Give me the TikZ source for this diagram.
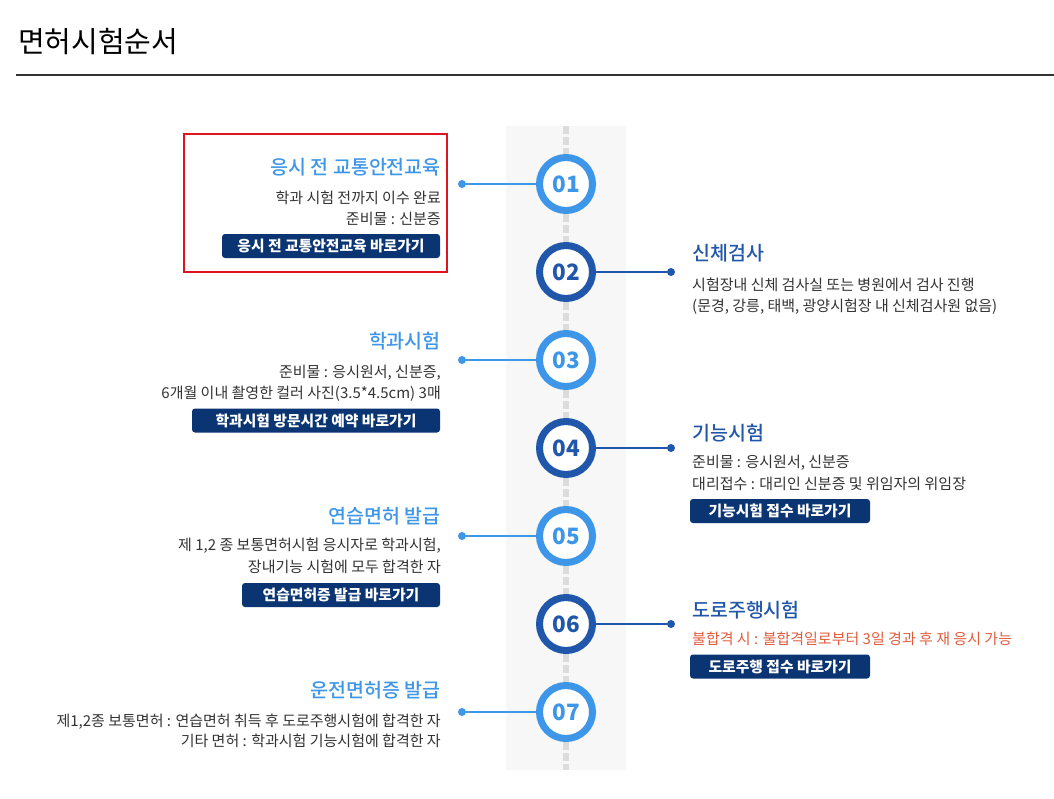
\documentclass[tikz,border=0pt]{standalone}
\usepackage{fontspec}
\setmainfont{Noto Sans CJK KR}
\newfontfamily\krmed{Noto Sans CJK KR Medium}
\usetikzlibrary{positioning}
\definecolor{stepsky}{RGB}{61,150,232}
\definecolor{stepnavy}{RGB}{33,87,170}
\definecolor{btnnavy}{RGB}{11,53,114}
\definecolor{bodygray}{RGB}{51,51,51}
\definecolor{warnred}{RGB}{226,92,60}
\definecolor{railgray}{RGB}{247,247,247}
\definecolor{dashgray}{RGB}{220,220,220}
\definecolor{boxred}{RGB}{224,20,30}

\begin{document}
\begin{tikzpicture}[
  x=1pt, y=-1pt,
  font=\fontsize{15}{18}\selectfont,
  stepring/.style={circle, draw=#1, line width=7pt, fill=white, minimum size=53pt, inner sep=0pt, text=#1, font=\fontsize{22.5}{22.5}\selectfont\bfseries},
  stepdot/.style={circle, fill=#1, minimum size=8pt, inner sep=0pt},
  link/.style={line width=2pt},
  headleft/.style={anchor=base east, inner sep=0pt, text=stepsky, font=\fontsize{19.5}{19.5}\selectfont\krmed},
  headright/.style={anchor=base west, inner sep=0pt, text=stepnavy, font=\fontsize{19.5}{19.5}\selectfont\krmed},
  bodyleft/.style={anchor=base east, text=bodygray, inner sep=0pt},
  bodyright/.style={anchor=base west, text=bodygray, inner sep=0pt},
  gobtn/.style={fill=btnnavy, rounded corners=3pt, minimum height=24pt, inner sep=0pt, text=white, font=\fontsize{14.8}{14.8}\selectfont\bfseries}
]

\fill[white] (0,0) rectangle (1054,798);
\useasboundingbox (0,0) rectangle (1054,798);

% Heading
\node[anchor=base west, inner sep=0pt, font=\fontsize{29}{29}\selectfont] (heading) at (18,52) {면허시험순서};
\draw[line width=2pt, bodygray] (16,75) -- (1054,75);

% Timeline rail
\fill[railgray] (506,126) rectangle (626,770);
\draw[dashgray, line width=6pt, dash pattern=on 8pt off 3pt] (566,126) -- (566,770);

% Step circles
\foreach \n/\y/\col in {1/184/stepsky, 2/272/stepnavy, 3/360/stepsky, 4/448/stepnavy, 5/536/stepsky, 6/624/stepnavy, 7/712/stepsky} {
  \node[stepring=\col] (c\n) at (566,\y) {0\n};
}

% 01 Traffic safety education
\node[stepdot=stepsky] (d1) at (462,184) {};
\draw[link, stepsky] (d1) -- (c1);
\node[headleft] (h1) at (441,174) {응시 전 교통안전교육};
\node[bodyleft] at (441,203) {학과 시험 전까지 이수 완료};
\node[bodyleft] at (441,224) {준비물 : 신분증};
\node[gobtn, minimum width=218pt] (b1) at (331,246) {응시 전 교통안전교육 바로가기};
\draw[boxred, line width=2.5pt] (184,134) rectangle (447,272);

% 02 Physical examination
\node[stepdot=stepnavy] (d2) at (671,272) {};
\draw[link, stepnavy] (d2) -- (c2);
\node[headright] (h2) at (692,260) {신체검사};
\node[bodyright] at (692,290) {시험장내 신체 검사실 또는 병원에서 검사 진행};
\node[bodyright] at (692,311) {(문경, 강릉, 태백, 광양시험장 내 신체검사원 없음)};

% 03 Written test
\node[stepdot=stepsky] (d3) at (462,360) {};
\draw[link, stepsky] (d3) -- (c3);
\node[headleft] (h3) at (441,348) {학과시험};
\node[bodyleft] at (441,377) {준비물 : 응시원서, 신분증,};
\node[bodyleft] at (441,398) {6개월 이내 촬영한 컬러 사진(3.5*4.5cm) 3매};
\node[gobtn, minimum width=248pt] (b3) at (316,420.5) {학과시험 방문시간 예약 바로가기};

% 04 Skill test
\node[stepdot=stepnavy] (d4) at (671,448) {};
\draw[link, stepnavy] (d4) -- (c4);
\node[headright] (h4) at (692,440) {기능시험};
\node[bodyright] at (692,467) {준비물 : 응시원서, 신분증};
\node[bodyright] at (692,489) {대리접수 : 대리인 신분증 및 위임자의 위임장};
\node[gobtn, minimum width=180pt] (b4) at (780,511) {기능시험 접수 바로가기};

% 05 Learner licence
\node[stepdot=stepsky] (d5) at (462,536) {};
\draw[link, stepsky] (d5) -- (c5);
\node[headleft] (h5) at (441,523) {연습면허 발급};
\node[bodyleft] at (441,550) {제 1,2 종 보통면허시험 응시자로 학과시험,};
\node[bodyleft] at (441,572) {장내기능 시험에 모두 합격한 자};
\node[gobtn, minimum width=198pt] (b5) at (341,595) {연습면허증 발급 바로가기};

% 06 Road test
\node[stepdot=stepnavy] (d6) at (671,624) {};
\draw[link, stepnavy] (d6) -- (c6);
\node[headright] (h6) at (692,617) {도로주행시험};
\node[bodyright, text=warnred] at (692,644) {불합격 시 : 불합격일로부터 3일 경과 후 재 응시 가능};
\node[gobtn, minimum width=180pt] (b6) at (780,666.5) {도로주행 접수 바로가기};

% 07 Driver licence
\node[stepdot=stepsky] (d7) at (462,712) {};
\draw[link, stepsky] (d7) -- (c7);
\node[headleft] (h7) at (441,697) {운전면허증 발급};
\node[bodyleft] at (441,726) {제1,2종 보통면허 : 연습면허 취득 후 도로주행시험에 합격한 자};
\node[bodyleft] at (441,746) {기타 면허 : 학과시험 기능시험에 합격한 자};

\end{tikzpicture}
\end{document}
